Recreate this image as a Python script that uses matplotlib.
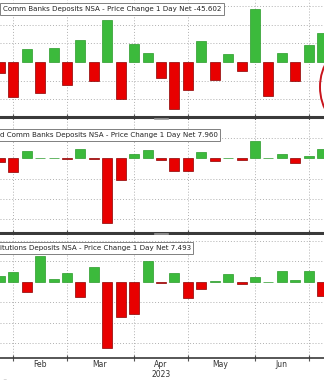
import pandas as pd
import matplotlib.pyplot as plt
from matplotlib.patches import Ellipse
from matplotlib.lines import Line2D

# Semanas (miercoles) y cambios semanales de depositos
semanas = pd.date_range('2023-01-25', periods=25, freq='7D')

comm_banks = [-30, -95, 34, -82, 38, -62, 58, -52, 112, -98, 49, 23, -43,
              -126, -75, 56, -48, 22, -24, 141, -90, 23, -51, 45, 78]
small_banks = [-4.5, -17, 9, 0.5, 0.3, -0.5, 12, -0.8, -81, -27, 6, 11, -1.8,
               -15.5, -15.5, 8.5, -3.2, 1.2, -2, 21.5, 0.8, 5, -6.2, 2.5, 12]
foreign_inst = [5.8, 9.4, -10.4, 25, 2.6, 8.8, -14.4, 14.6, -64.4, -34.8, -31.2,
                19.8, -1, 8.8, -16, -6.8, 1, 7.4, -2.2, 4.8, 0.2, 10.4, 1.6, 10.4, -13.6]

titulos = ['Comm Banks Deposits NSA - Price Change 1 Day Net -45.602',
           'd Comm Banks Deposits NSA - Price Change 1 Day Net 7.960',
           'itutions Deposits NSA - Price Change 1 Day Net 7.493']

# lineas de mes (primer miercoles) y etiquetas centradas
lineas_mes = pd.to_datetime(['2023-02-01', '2023-03-01', '2023-04-05',
                             '2023-05-03', '2023-06-07', '2023-07-05'])
meses = ['Feb', 'Mar', 'Apr', 'May', 'Jun']
pos_meses = pd.to_datetime(['2023-02-15', '2023-03-18', '2023-04-19',
                            '2023-05-20', '2023-06-21'])

VERDE = '#3cba3c'
ROJO = '#e80000'

fig = plt.figure(figsize=(3.24, 3.80), dpi=100)
H = 380.0
# (top px, bottom px, limites y, paso de grid, valores)
paneles = [(0, 117, (-147.5, 166), 50, comm_banks),
           (120, 233, (-93, 48), 25, small_banks),
           (235, 358, (-74.4, 45.6), 20, foreign_inst)]

x0 = semanas[1] - pd.Timedelta(days=6.9)
x1 = semanas[1] + pd.Timedelta(days=162)

axes = []
for i, (top, bot, ylim, paso, vals) in enumerate(paneles):
    ax = fig.add_axes([0, 1 - bot / H, 1, (bot - top) / H])
    colores = [VERDE if v >= 0 else ROJO for v in vals]
    bordes = ['#2a9a2a' if v >= 0 else '#8a0000' for v in vals]
    ax.bar(semanas, vals, width=5.2, color=colores, edgecolor=bordes,
           linewidth=0.5, zorder=3)
    ax.set_xlim(x0, x1)
    ax.set_ylim(*ylim)
    niveles = [paso * k for k in range(-4, 5) if paso * k != 0]
    for n in niveles:
        ax.axhline(n, color='#b0b0b0', lw=0.7, ls=(0, (1, 2)), zorder=1)
    for d in lineas_mes:
        ax.axvline(d, color='#b0b0b0', lw=0.7, ls=(0, (1, 2)), zorder=1)
    for s in ['top', 'left', 'right']:
        ax.spines[s].set_visible(False)
    ax.spines['bottom'].set_color('#3a3a3a')
    ax.spines['bottom'].set_linewidth(2.2 if i < 2 else 1.2)
    ax.set_yticks([])
    ax.set_xticks(lineas_mes)
    ax.tick_params(axis='x', direction='inout', length=4, width=0.8,
                   color='#555555', labelbottom=False)
    axes.append(ax)

# etiquetas de la leyenda (cortadas a la izquierda como en el original)
yt = [9, 135, 248]
for t, y in zip(titulos, yt):
    xx = 3 if t.startswith('Comm') else -0.5
    fig.text(xx / 324, 1 - y / H, t, fontsize=5.15, color='#222222',
             va='center', ha='left', family='DejaVu Sans',
             bbox=dict(boxstyle='square,pad=0.38', fc='white', ec='#808080', lw=0.7),
             zorder=10)

# eje inferior: meses y año
ax3 = axes[2]
ax3.set_xticks(pos_meses, minor=True)
ax3.set_xticklabels(meses, minor=True, fontsize=5.5, color='#333333')
ax3.tick_params(axis='x', which='minor', length=0, pad=1.5, labelbottom=True)
fig.text(161 / 324, 1 - 374.5 / H, '2023', fontsize=5.5, color='#333333',
         ha='center', va='center')

# agarraderas de los separadores
for yy in [118.5, 234]:
    fig.add_artist(Line2D([155 / 324, 168 / 324], [1 - yy / H] * 2,
                          color='#9a9a9a', lw=1.2, transform=fig.transFigure))

# circulo rojo de anotacion (cortado a la derecha)
fig.add_artist(Ellipse((350 / 324, 1 - 87 / H), 60 / 324, 80 / H, fill=False,
                       ec='#c8141c', lw=1.4, transform=fig.transFigure))

# pie de pagina (solo asoma la parte superior)
fig.text(2 / 324, 1 - 382.5 / H, '© 2023 Bloomberg Finance L.P.    10-Jul-2023 20:23:11    '
         '    10-07-2023 16:13 Heure',
         fontsize=4.6, color='#777777', ha='left', va='center')

fig.savefig('out.png', dpi=100)
